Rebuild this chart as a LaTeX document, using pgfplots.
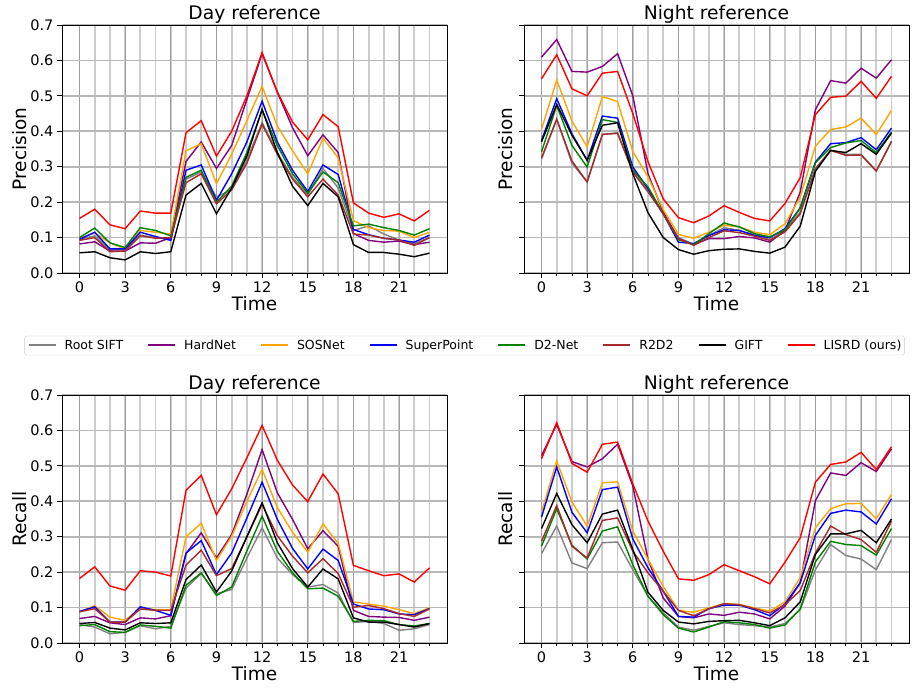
\documentclass[border=0pt]{standalone}
\usepackage{pgfplots}
\usepackage{pgfplotstable}
\usepackage{fontspec}
\setmainfont{DejaVu Sans}
\pgfplotsset{compat=1.18}

\definecolor{cSift}{HTML}{808080}
\definecolor{cHard}{HTML}{800080}
\definecolor{cSos}{HTML}{FFA500}
\definecolor{cSp}{HTML}{0000FF}
\definecolor{cD2}{HTML}{008000}
\definecolor{cR2}{HTML}{A52A2A}
\definecolor{cGift}{HTML}{000000}
\definecolor{cLisrd}{HTML}{FF0000}

% precision, day reference
\pgfplotstableread{
t sift hard sos sp d2 r2 gift lisrd
0 0.095 0.082 0.098 0.095 0.100 0.092 0.057 0.154
1 0.105 0.088 0.113 0.115 0.127 0.100 0.060 0.180
2 0.065 0.062 0.085 0.068 0.085 0.060 0.043 0.136
3 0.068 0.062 0.068 0.068 0.072 0.062 0.037 0.125
4 0.107 0.085 0.120 0.115 0.128 0.105 0.060 0.175
5 0.100 0.084 0.115 0.103 0.120 0.098 0.055 0.169
6 0.095 0.100 0.110 0.092 0.105 0.100 0.060 0.169
7 0.265 0.315 0.345 0.290 0.270 0.255 0.220 0.396
8 0.285 0.370 0.365 0.305 0.290 0.280 0.253 0.430
9 0.215 0.295 0.252 0.205 0.200 0.195 0.167 0.330
10 0.235 0.360 0.335 0.280 0.245 0.235 0.240 0.400
11 0.320 0.490 0.430 0.370 0.340 0.310 0.330 0.500
12 0.425 0.619 0.527 0.485 0.460 0.420 0.462 0.622
13 0.340 0.510 0.415 0.370 0.360 0.335 0.340 0.511
14 0.270 0.410 0.345 0.290 0.280 0.265 0.245 0.426
15 0.220 0.331 0.280 0.230 0.225 0.215 0.190 0.376
16 0.295 0.390 0.380 0.305 0.285 0.265 0.253 0.447
17 0.240 0.340 0.325 0.278 0.255 0.220 0.215 0.413
18 0.120 0.111 0.148 0.123 0.133 0.110 0.080 0.198
19 0.133 0.092 0.128 0.108 0.138 0.107 0.058 0.169
20 0.110 0.087 0.120 0.098 0.128 0.098 0.058 0.157
21 0.093 0.090 0.118 0.093 0.120 0.093 0.053 0.167
22 0.083 0.080 0.100 0.087 0.107 0.078 0.046 0.147
23 0.100 0.087 0.115 0.107 0.125 0.100 0.056 0.177
}\PD

% precision, night reference
\pgfplotstableread{
t sift hard sos sp d2 r2 gift lisrd
0 0.321 0.609 0.405 0.374 0.342 0.325 0.370 0.548
1 0.434 0.659 0.545 0.492 0.473 0.434 0.476 0.616
2 0.310 0.569 0.429 0.393 0.360 0.316 0.389 0.520
3 0.257 0.567 0.356 0.318 0.299 0.257 0.318 0.500
4 0.391 0.583 0.498 0.443 0.433 0.391 0.417 0.564
5 0.396 0.619 0.484 0.437 0.425 0.394 0.424 0.569
6 0.285 0.500 0.343 0.299 0.290 0.285 0.280 0.450
7 0.233 0.280 0.271 0.238 0.243 0.229 0.170 0.314
8 0.167 0.172 0.179 0.167 0.167 0.167 0.100 0.209
9 0.100 0.097 0.109 0.087 0.094 0.097 0.066 0.156
10 0.081 0.080 0.098 0.083 0.080 0.078 0.053 0.142
11 0.106 0.097 0.115 0.106 0.111 0.100 0.063 0.161
12 0.128 0.097 0.135 0.122 0.141 0.119 0.067 0.190
13 0.120 0.103 0.130 0.120 0.130 0.114 0.068 0.171
14 0.108 0.099 0.115 0.106 0.111 0.104 0.061 0.154
15 0.094 0.087 0.108 0.100 0.102 0.092 0.056 0.147
16 0.120 0.120 0.139 0.125 0.122 0.116 0.073 0.196
17 0.172 0.228 0.214 0.184 0.183 0.167 0.132 0.269
18 0.294 0.461 0.358 0.313 0.311 0.294 0.287 0.447
19 0.346 0.543 0.405 0.365 0.354 0.346 0.346 0.496
20 0.335 0.536 0.412 0.368 0.367 0.332 0.340 0.499
21 0.335 0.578 0.437 0.382 0.374 0.333 0.365 0.541
22 0.288 0.550 0.391 0.348 0.340 0.288 0.335 0.493
23 0.370 0.602 0.459 0.409 0.398 0.372 0.395 0.555
}\PN

% recall, day reference
\pgfplotstableread{
t sift hard sos sp d2 r2 gift lisrd
0 0.052 0.069 0.088 0.089 0.049 0.088 0.055 0.182
1 0.045 0.075 0.105 0.102 0.052 0.097 0.058 0.215
2 0.026 0.057 0.073 0.059 0.032 0.059 0.042 0.161
3 0.030 0.052 0.064 0.059 0.030 0.059 0.037 0.149
4 0.049 0.071 0.099 0.102 0.051 0.096 0.057 0.204
5 0.040 0.068 0.094 0.092 0.047 0.092 0.055 0.200
6 0.047 0.077 0.094 0.078 0.042 0.092 0.057 0.189
7 0.155 0.252 0.300 0.254 0.163 0.220 0.179 0.431
8 0.196 0.311 0.338 0.289 0.198 0.262 0.220 0.473
9 0.139 0.240 0.233 0.193 0.134 0.190 0.144 0.362
10 0.151 0.306 0.301 0.254 0.158 0.210 0.203 0.435
11 0.240 0.420 0.400 0.353 0.260 0.300 0.300 0.523
12 0.325 0.546 0.490 0.454 0.358 0.391 0.396 0.614
13 0.240 0.424 0.382 0.349 0.259 0.303 0.283 0.516
14 0.193 0.349 0.313 0.267 0.198 0.245 0.210 0.446
15 0.158 0.266 0.256 0.209 0.153 0.198 0.158 0.399
16 0.165 0.317 0.336 0.265 0.155 0.238 0.209 0.477
17 0.141 0.273 0.281 0.233 0.132 0.196 0.181 0.421
18 0.058 0.092 0.116 0.110 0.061 0.101 0.071 0.219
19 0.061 0.075 0.110 0.096 0.064 0.106 0.059 0.204
20 0.055 0.073 0.104 0.094 0.063 0.097 0.059 0.190
21 0.036 0.072 0.094 0.082 0.052 0.083 0.052 0.195
22 0.040 0.064 0.083 0.080 0.048 0.075 0.045 0.172
23 0.052 0.073 0.099 0.097 0.055 0.096 0.055 0.212
}\RD

% recall, night reference
\pgfplotstableread{
t sift hard sos sp d2 r2 gift lisrd
0 0.252 0.529 0.369 0.355 0.273 0.287 0.323 0.520
1 0.330 0.617 0.514 0.497 0.379 0.388 0.422 0.622
2 0.226 0.512 0.398 0.369 0.276 0.273 0.334 0.507
3 0.210 0.497 0.330 0.311 0.237 0.240 0.283 0.482
4 0.283 0.520 0.452 0.433 0.316 0.346 0.364 0.561
5 0.285 0.561 0.455 0.440 0.328 0.353 0.375 0.567
6 0.207 0.443 0.316 0.294 0.221 0.259 0.264 0.449
7 0.132 0.236 0.236 0.212 0.132 0.198 0.143 0.344
8 0.085 0.127 0.160 0.146 0.080 0.146 0.092 0.259
9 0.045 0.075 0.092 0.075 0.042 0.092 0.059 0.181
10 0.036 0.071 0.087 0.073 0.031 0.077 0.054 0.177
11 0.047 0.082 0.099 0.097 0.045 0.096 0.061 0.193
12 0.057 0.078 0.111 0.107 0.060 0.111 0.063 0.221
13 0.052 0.087 0.109 0.107 0.057 0.108 0.064 0.204
14 0.049 0.082 0.099 0.094 0.052 0.097 0.057 0.187
15 0.045 0.068 0.090 0.077 0.042 0.085 0.049 0.167
16 0.055 0.104 0.116 0.110 0.051 0.108 0.071 0.228
17 0.094 0.170 0.184 0.170 0.096 0.148 0.116 0.297
18 0.207 0.402 0.325 0.304 0.229 0.254 0.250 0.454
19 0.278 0.480 0.379 0.366 0.287 0.330 0.308 0.504
20 0.247 0.473 0.393 0.375 0.278 0.306 0.308 0.511
21 0.237 0.509 0.394 0.370 0.275 0.292 0.318 0.538
22 0.207 0.484 0.351 0.336 0.248 0.256 0.283 0.490
23 0.292 0.548 0.419 0.407 0.323 0.344 0.350 0.554
}\RN

\pgfplotsset{
  panel/.style={
    width=385pt, height=248pt, scale only axis,
    xmin=-1.15, xmax=24.15, ymin=0, ymax=0.7,
    xtick={0,3,...,21}, minor xtick={0,...,23},
    ytick={0,0.1,0.2,0.3,0.4,0.5,0.6,0.7},
    grid=both,
    major x grid style={color=black!38, line width=0.9pt},
    minor x grid style={color=black!20, line width=1.8pt},
    major y grid style={color=black!28, line width=1.6pt},
    tick align=outside, tick pos=left,
    major tick length=5pt, minor tick length=3pt,
    every tick/.style={black, line width=0.8pt},
    axis line style={black, line width=0.9pt},
    /pgf/number format/assume math mode=true,
    ticklabel style={font=\fontsize{14.5}{16}\selectfont},
    yticklabel style={/pgf/number format/.cd, fixed, fixed zerofill, precision=1},
    every axis title/.style={at={(axis description cs:0.5,1.024)}, anchor=base,
      font=\fontsize{18.7}{20}\selectfont},
    xlabel=Time,
    xlabel style={at={(axis description cs:0.5,-0.152)}, anchor=base,
      font=\fontsize{18.5}{20}\selectfont},
    ylabel style={anchor=base, font=\fontsize{18.5}{20}\selectfont},
  },
  leftpanel/.style={ylabel style={at={(axis description cs:-0.092,0.5)}}},
  rightpanel/.style={yticklabels={}, ylabel style={at={(axis description cs:-0.031,0.5)}}},
  ln/.style={line width=1.4pt},
  key/.style={line width=2pt, draw=#1},
}

\newcommand{\drawseries}[1]{%
  \addplot[ln, cSift] table[x=t,y=sift] {#1};
  \addplot[ln, cHard] table[x=t,y=hard] {#1};
  \addplot[ln, cSos] table[x=t,y=sos] {#1};
  \addplot[ln, cSp] table[x=t,y=sp] {#1};
  \addplot[ln, cD2] table[x=t,y=d2] {#1};
  \addplot[ln, cR2] table[x=t,y=r2] {#1};
  \addplot[ln, cGift] table[x=t,y=gift] {#1};
  \addplot[ln, cLisrd] table[x=t,y=lisrd] {#1};
}

\begin{document}
\begin{tikzpicture}[x=1pt,y=1pt]
\useasboundingbox (0,0) rectangle (915,688);

\begin{axis}[panel, leftpanel, at={(62pt,415pt)}, anchor=south west,
  title={Day reference}, ylabel={Precision},
  legend columns=8,
  legend style={at={(axis description cs:1.0455,-0.2923)}, anchor=center,
    draw=black!20, rounded corners=2pt,
    font=\fontsize{12.5}{14}\selectfont,
    inner xsep=3pt, inner ysep=3pt,
    nodes={inner xsep=0pt, inner ysep=1pt},
    /tikz/every odd column/.append style={column sep=8pt},
    /tikz/every even column/.append style={column sep=24pt}},
  legend image code/.code={%
    \draw[sharp corners] (0pt,0pt) -- (27pt,0pt);},
  legend cell align=left]
\addlegendimage{key=cSift}
\addlegendimage{key=cHard}
\addlegendimage{key=cSos}
\addlegendimage{key=cSp}
\addlegendimage{key=cD2}
\addlegendimage{key=cR2}
\addlegendimage{key=cGift}
\addlegendimage{key=cLisrd}
\legend{Root SIFT,HardNet,SOSNet,SuperPoint,D2-Net,R2D2,GIFT,LISRD (ours)}
\drawseries{\PD}
\end{axis}

\begin{axis}[panel, rightpanel, at={(524pt,415pt)}, anchor=south west,
  title={Night reference}, ylabel={Precision}]
\drawseries{\PN}
\end{axis}

\begin{axis}[panel, leftpanel, at={(62pt,45pt)}, anchor=south west,
  title={Day reference}, ylabel={Recall}]
\drawseries{\RD}
\end{axis}

\begin{axis}[panel, rightpanel, at={(524pt,45pt)}, anchor=south west,
  title={Night reference}, ylabel={Recall}]
\drawseries{\RN}
\end{axis}
\end{tikzpicture}
\end{document}
